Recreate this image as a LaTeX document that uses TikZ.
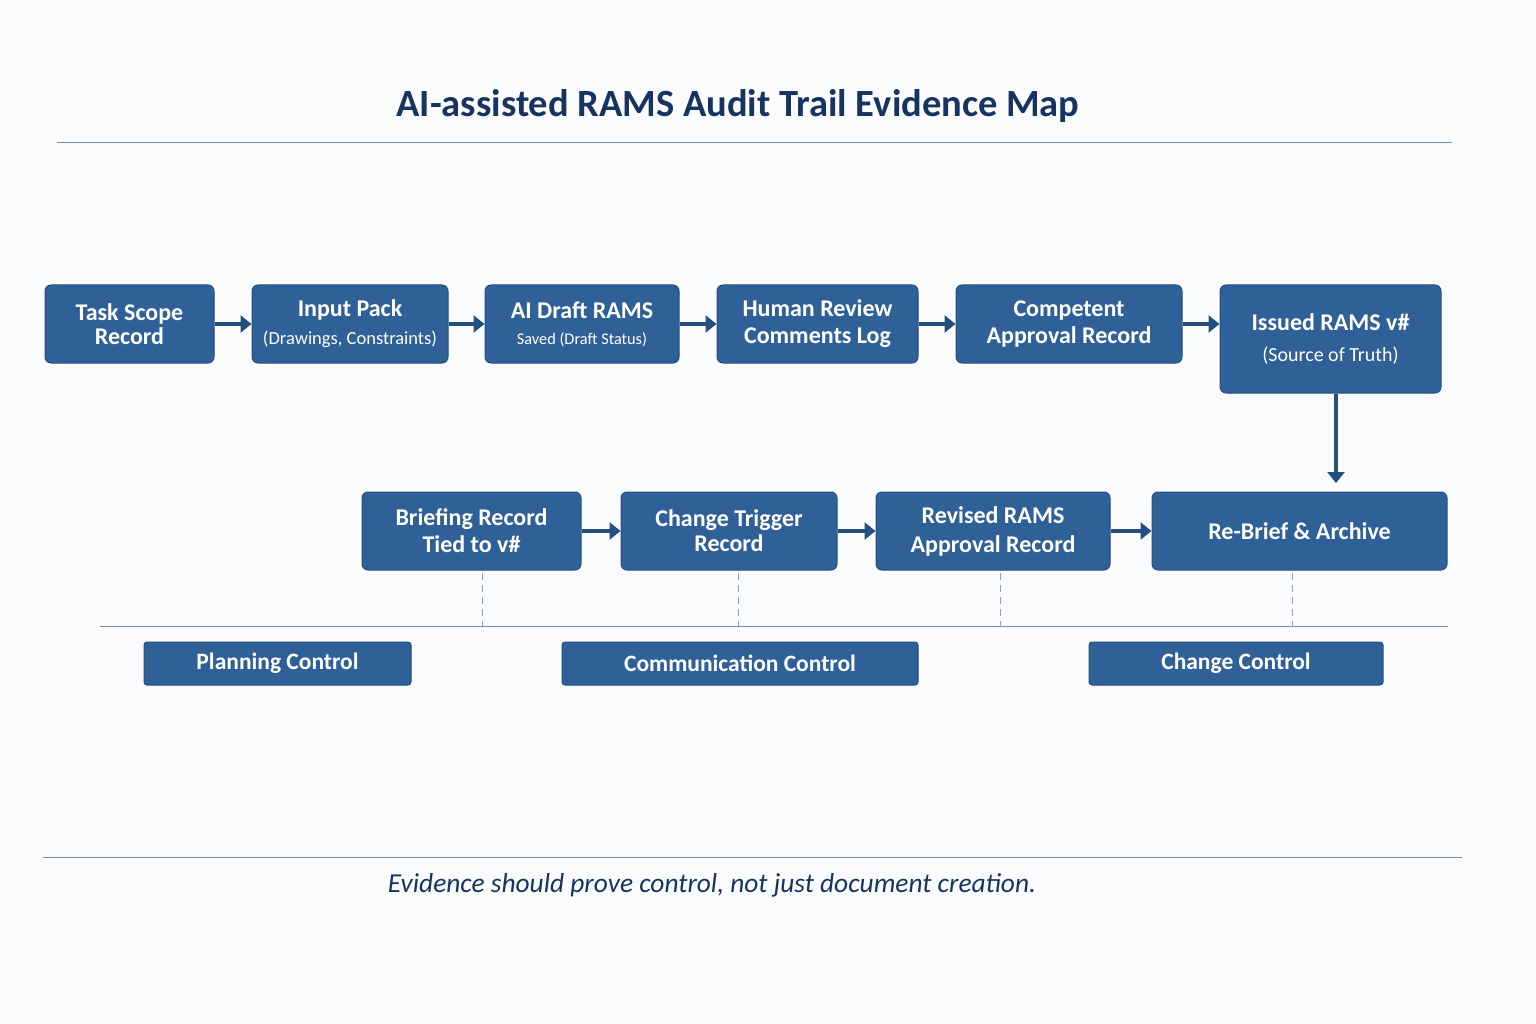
\documentclass[tikz,border=0pt]{standalone}
\usepackage{fontspec}
\setmainfont{Carlito}
\usetikzlibrary{arrows.meta}
\definecolor{boxfill}{HTML}{2F6097}
\definecolor{boxedge}{HTML}{24507F}
\definecolor{arrowc}{HTML}{23507F}
\definecolor{navy}{HTML}{17335F}
\definecolor{rule}{HTML}{6F8DB5}
\definecolor{paper}{HTML}{FAFBFD}
\newcommand{\subtxt}{\mdseries\fontsize{18.5}{21}\selectfont}
\newcommand{\subsmall}{\mdseries\fontsize{16.3}{19}\selectfont}
\newcommand{\subbig}{\mdseries\fontsize{20}{23}\selectfont}
\begin{document}
\begin{tikzpicture}[x=1pt,y=-1pt,
  card/.style={draw=boxedge,line width=1pt,fill=boxfill,rounded corners=6pt,text=white,font=\bfseries\fontsize{24}{27}\selectfont,align=center,inner sep=0pt},
  ctrl/.style={draw=boxedge,line width=1pt,fill=boxfill,rounded corners=3pt,text=white,font=\bfseries\fontsize{23.5}{26}\selectfont,inner sep=0pt},
  flow/.style={draw=arrowc,line width=4.5pt,-{Triangle[length=11pt,width=17pt]}},
  tie/.style={draw=rule!80,line width=0.8pt,dash pattern=on 7pt off 5pt}]
\useasboundingbox (0,0) rectangle (1536,1024);
\fill[paper] (0,0) rectangle (1536,1024);
% title
\node[text=navy,font=\bfseries\fontsize{38.5}{42}\selectfont] (title) at (738,106) {AI-assisted RAMS Audit Trail Evidence Map};
\draw[rule,line width=0.9pt] (57,142) coordinate (t1) -- (1452,142) coordinate (t2);
% row 1
\node[card,minimum width=169pt,minimum height=78pt] (a) at (129.5,324) {Task Scope\\[-3pt]Record};
\node[card,minimum width=196pt,minimum height=78pt] (b) at (350,324) {Input Pack\\[1pt]{\subtxt (Drawings, Constraints)}};
\node[card,minimum width=194pt,minimum height=78pt] (c) at (582,324) {AI Draft RAMS\\[-1pt]{\subsmall Saved (Draft Status)}};
\node[card,minimum width=201pt,minimum height=78pt] (d) at (817.5,324) {Human Review\\[0pt]Comments Log};
\node[card,minimum width=226pt,minimum height=78pt] (e) at (1069,324) {Competent\\[0pt]Approval Record};
\node[card,minimum width=221pt,minimum height=108pt] (f) at (1330.5,339) {Issued RAMS v\#\\[4pt]{\subbig (Source of Truth)}};
% row 2
\node[card,minimum width=219pt,minimum height=78pt] (g) at (471.5,531) {Briefing Record\\[0pt]Tied to v\#};
\node[card,minimum width=216pt,minimum height=78pt] (h) at (729,531) {Change Trigger\\[-2pt]Record};
\node[card,minimum width=234pt,minimum height=78pt] (i) at (993,531) {Revised RAMS\\[2pt]Approval Record};
\node[card,minimum width=295pt,minimum height=78pt] (j) at (1299.5,531) {Re-Brief \& Archive};
% arrows
\draw[flow] (a.east) -- (b.west);
\draw[flow] (b.east) -- (c.west);
\draw[flow] (c.east) -- (d.west);
\draw[flow] (d.east) -- (e.west);
\draw[flow] (e.east) -- (f.west |- e.east);
\draw[flow] (f.south -| 1336,0) -- (1336,483) coordinate (fj);
\draw[flow] (g.east) -- (h.west);
\draw[flow] (h.east) -- (i.west);
\draw[flow] (i.east) -- (j.west);
% dashed ties
\coordinate (gb) at (482,626);
\coordinate (hb) at (738,626);
\coordinate (ib) at (1000,626);
\coordinate (jb) at (1292,626);
\draw[tie] (482,573) -- (gb);
\draw[tie] (738,573) -- (hb);
\draw[tie] (1000,573) -- (ib);
\draw[tie] (1292,573) -- (jb);
\draw[rule,line width=0.9pt] (100,626) coordinate (l1) -- (1448,626) coordinate (l2);
% controls
\node[ctrl,minimum width=267pt,minimum height=43pt] (p) at (277.5,663.5) {Planning Control};
\node[ctrl,minimum width=356pt,minimum height=43pt] (q) at (740,663.5) {Communication Control};
\node[ctrl,minimum width=294pt,minimum height=43pt] (r) at (1236,663.5) {Change Control};
% footer
\draw[rule,line width=0.9pt] (43,857) coordinate (f1) -- (1462,857) coordinate (f2);
\node[text=navy,font=\itshape\fontsize{27.4}{31}\selectfont] (foot) at (712,885) {Evidence should prove control, not just document creation.};
\end{tikzpicture}
\end{document}
